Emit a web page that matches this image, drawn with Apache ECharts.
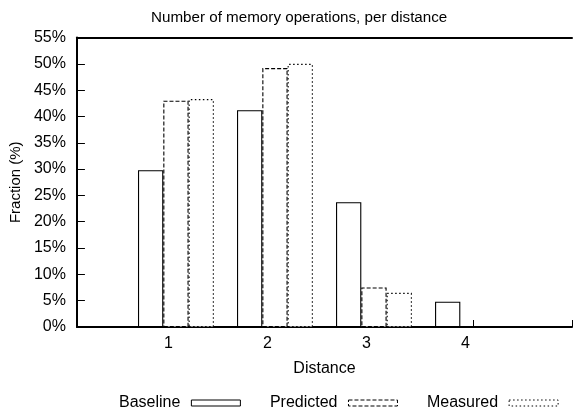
<!DOCTYPE html>
<html>
<head>
<meta charset="utf-8">
<script src="https://cdn.jsdelivr.net/npm/echarts@6/dist/echarts.min.js"></script>
<style>
html,body{margin:0;padding:0;background:#fff;}
#c{width:575px;height:416px;}
</style>
</head>
<body>
<div id="c"></div>
<script>
const distances = [1, 2, 3, 4];
const baseline = [29.8, 41.2, 23.7, 4.8];
const predicted = [43.0, 49.2, 7.5, 0];
const measured = [43.3, 50.0, 6.5, 0];
const xTickLabels = ['1', '2', '3', '4'];
const seriesNames = ['Baseline', 'Predicted', 'Measured'];

const FONT = 'Liberation Sans, Arial, sans-serif';
const DASHES = ['solid', [4, 2], [1.5, 2.5]];
const chart = echarts.init(document.getElementById('c'), null, {renderer: 'canvas'});

function mk(name, vals, dash) {
  return {
    name: name,
    type: 'bar',
    xAxisIndex: 0,
    barWidth: 25.3,
    barGap: '0%',
    data: distances.map((d, i) => [d, vals[i]]),
    itemStyle: {
      color: '#ffffff',
      borderColor: '#000000',
      borderWidth: 1.1,
      borderType: dash
    },
    emphasis: {disabled: true},
    animation: false
  };
}

chart.setOption({
  animation: false,
  backgroundColor: '#ffffff',
  textStyle: {fontFamily: FONT},
  title: {
    text: 'Number of memory operations, per distance',
    left: 146,
    top: 5,
    textStyle: {fontFamily: FONT, fontSize: 15.2, fontWeight: 'normal', color: '#000'}
  },
  grid: {
    left: 76, right: -3.5, top: 37.5, bottom: 89, show: false
  },
  legend: {
    data: seriesNames.map((n, i) => ({
      name: n,
      itemStyle: {color: '#ffffff', borderColor: '#000', borderWidth: 1, borderType: DASHES[i]}
    })),
    left: 119,
    top: 395,
    width: 456,
    padding: 0,
    align: 'right',
    icon: 'rect',
    itemWidth: 49,
    itemHeight: 6,
    itemGap: 29,
    selectedMode: false,
    textStyle: {fontFamily: FONT, fontSize: 16, color: '#000', padding: [3, 6, 0, 0]}
  },
  xAxis: [{
    type: 'value',
    min: 0,
    max: 5,
    interval: 1,
    name: 'Distance',
    nameLocation: 'middle',
    nameGap: 34,
    nameTextStyle: {fontFamily: FONT, fontSize: 16, color: '#000'},
    splitLine: {show: false},
    axisLine: {show: true, lineStyle: {color: '#000', width: 2}},
    axisTick: {show: true, inside: true, length: 7, lineStyle: {color: '#000', width: 1}},
    axisLabel: {
      fontFamily: FONT, fontSize: 16, color: '#000', margin: 9,
      padding: [0, 15, 0, 0],
      formatter: function (v) {
        const i = distances.indexOf(v);
        return i >= 0 ? xTickLabels[i] : '';
      }
    }
  }, {
    type: 'value',
    position: 'top',
    min: 0,
    max: 5,
    interval: 1,
    splitLine: {show: false},
    axisLine: {show: true, lineStyle: {color: '#000', width: 2}},
    axisTick: {show: false},
    axisLabel: {show: false}
  }],
  yAxis: {
    type: 'value',
    min: 0,
    max: 55,
    interval: 5,
    name: 'Fraction (%)',
    nameLocation: 'middle',
    nameGap: 50,
    nameTextStyle: {fontFamily: FONT, fontSize: 15, color: '#000'},
    splitLine: {show: false},
    axisLine: {show: true, lineStyle: {color: '#000', width: 2}},
    axisTick: {show: true, inside: true, length: 8, lineStyle: {color: '#000', width: 1}},
    axisLabel: {fontFamily: FONT, fontSize: 16, color: '#000', margin: 11, formatter: '{value}%'}
  },
  series: [
    mk(seriesNames[0], baseline, DASHES[0]),
    mk(seriesNames[1], predicted, DASHES[1]),
    mk(seriesNames[2], measured, DASHES[2])
  ]
});
</script>
</body>
</html>
